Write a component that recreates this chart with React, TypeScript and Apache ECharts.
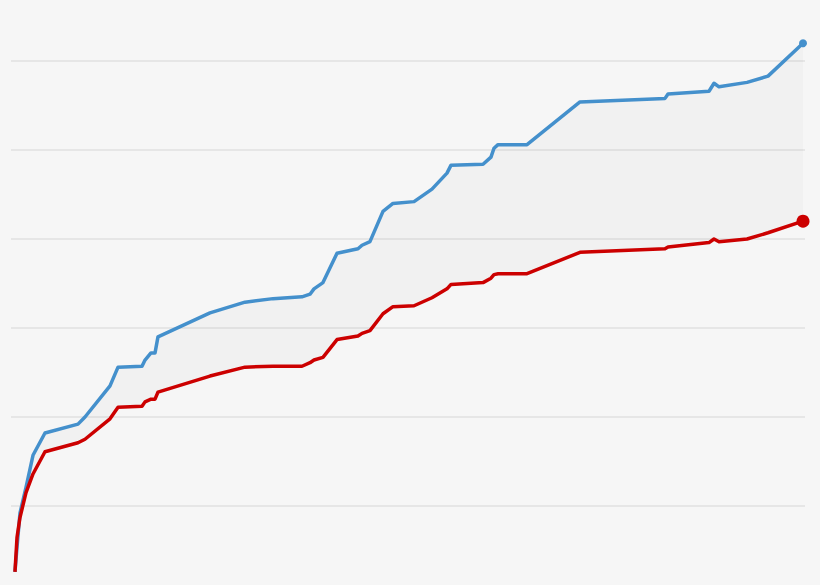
import React, { useEffect, useRef } from 'react';
import * as echarts from 'echarts';

// x positions (weeks, 0..100) shared by both lines
const weeks = [
  0.5, 0.76, 1.13, 1.89, 2.77, 4.28, 8.44, 9.32, 12.47, 13.48, 16.5, 16.88, 17.63, 18.14, 18.51,
  25.06, 29.47, 33.0, 36.65, 37.66, 38.16, 39.29, 41.06, 43.7, 44.21, 45.21, 46.85, 48.11, 50.76,
  53.02, 54.91, 55.42, 59.45, 60.45, 60.83, 61.34, 64.99, 71.66, 82.37, 82.75, 87.91, 88.54, 89.17,
  92.7, 95.34, 99.75,
];

const upperValues = [
  0.26, 0.54, 0.92, 1.21, 1.57, 1.82, 1.92, 2.0, 2.35, 2.56, 2.57, 2.64, 2.72, 2.72, 2.9,
  3.17, 3.29, 3.33, 3.35, 3.38, 3.44, 3.51, 3.84, 3.89, 3.93, 3.97, 4.31, 4.4, 4.42,
  4.56, 4.74, 4.83, 4.84, 4.92, 5.02, 5.06, 5.06, 5.54, 5.58, 5.63, 5.66, 5.75, 5.71,
  5.76, 5.83, 6.2,
];

const lowerValues = [
  0.26, 0.65, 0.87, 1.15, 1.36, 1.61, 1.71, 1.75, 1.98, 2.11, 2.12, 2.17, 2.2, 2.2, 2.28,
  2.46, 2.56, 2.57, 2.57, 2.61, 2.64, 2.67, 2.87, 2.91, 2.94, 2.97, 3.16, 3.24, 3.25,
  3.34, 3.44, 3.49, 3.51, 3.56, 3.6, 3.61, 3.61, 3.85, 3.89, 3.91, 3.96, 4.0, 3.97,
  4.0, 4.07, 4.2,
];

const BLUE = '#4490cc';
const RED = '#cc0000';

const App: React.FC = () => {
  const chartRef = useRef<HTMLDivElement>(null);

  useEffect(() => {
    if (!chartRef.current) return;
    const chart = echarts.init(chartRef.current, undefined, { renderer: 'svg' });
    const last = weeks.length - 1;

    const option = {
      animation: false,
      backgroundColor: '#f6f6f6',
      grid: { left: 11, right: 15, top: 0, bottom: 0 },
      xAxis: {
        type: 'value',
        min: 0,
        max: 100,
        axisLine: { show: false },
        axisTick: { show: false },
        axisLabel: { show: false },
        splitLine: { show: false },
      },
      yAxis: {
        type: 'value',
        min: 0,
        max: 7,
        interval: 1,
        axisLine: { show: false },
        axisTick: { show: false },
        axisLabel: { show: false },
        splitLine: { lineStyle: { color: '#e1e1e1', width: 1.5 } },
      },
      series: [
        {
          // shaded band between the two lines
          type: 'custom',
          data: [0],
          silent: true,
          z: 1,
          renderItem: (_params: any, api: any) => {
            const top = weeks.map((w, i) => api.coord([w, upperValues[i]]));
            const bottom = weeks.map((w, i) => api.coord([w, lowerValues[i]])).reverse();
            return {
              type: 'polygon',
              shape: { points: top.concat(bottom) },
              style: { fill: 'rgba(0,0,0,0.02)' },
            };
          },
        },
        {
          name: 'upper',
          type: 'line',
          data: weeks.map((w, i) => [w, upperValues[i]]),
          showSymbol: false,
          lineStyle: { color: BLUE, width: 3.5, join: 'round' },
          z: 2,
        },
        {
          name: 'lower',
          type: 'line',
          data: weeks.map((w, i) => [w, lowerValues[i]]),
          showSymbol: false,
          lineStyle: { color: RED, width: 3.5, join: 'round' },
          z: 3,
        },
        {
          type: 'scatter',
          data: [[weeks[last], lowerValues[last]]],
          symbolSize: 13,
          itemStyle: { color: RED, opacity: 1 },
          z: 4,
        },
        {
          type: 'scatter',
          data: [[weeks[last], upperValues[last]]],
          symbolSize: 8,
          itemStyle: { color: BLUE, opacity: 1 },
          z: 4,
        },
      ],
    };

    chart.setOption(option);
    return () => {
      chart.dispose();
    };
  }, []);

  return (
    <div
      style={{
        position: 'fixed',
        left: 0,
        top: 0,
        width: 820,
        height: 585,
        overflow: 'hidden',
        background: '#f6f6f6',
      }}
    >
      <div ref={chartRef} style={{ position: 'absolute', left: 0, top: -28, width: 820, height: 623 }} />
    </div>
  );
};

export default App;
